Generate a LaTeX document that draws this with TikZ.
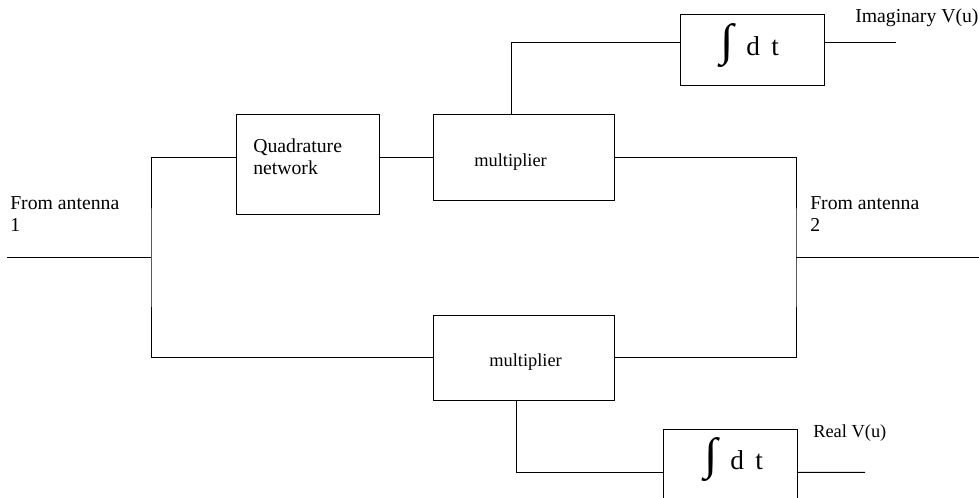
\documentclass[tikz,border=0pt]{standalone}
\usepackage{fontspec}
\setmainfont{Liberation Serif}
\newfontfamily\intfont{Liberation Serif}
\usepackage{graphicx}
\newcommand{\bigint}{{\intfont\raisebox{-9pt}{\resizebox*{10pt}{33pt}{\raisebox{\depth}{∫}}}}}
\newcommand{\intdt}{\makebox[19.5pt][l]{\bigint}\makebox[18.75pt][l]{d}t}
\tikzset{
  box/.style={draw, line width=0.75pt, inner sep=0pt, outer sep=0pt},
  wire/.style={line width=0.75pt},
  lbl/.style={inner sep=0pt, anchor=base west, align=left, font=\fontsize{14.8}{16.5}\selectfont},
  slbl/.style={inner sep=0pt, anchor=base west, font=\fontsize{13.8}{16}\selectfont},
  intlbl/.style={inner sep=0pt, anchor=base west, font=\fontsize{20.5}{24}\selectfont},
}
\begin{document}
\begin{tikzpicture}[x=0.75pt,y=-0.75pt]
\useasboundingbox (0,0) rectangle (979,498);
% boxes
\node[box, minimum width=107.25pt, minimum height=75pt] (quad) at (308.2,164.3) {};
\node[box, minimum width=136.05pt, minimum height=64.3pt] (mult1) at (524,157.2) {};
\node[box, minimum width=136.05pt, minimum height=64.3pt] (mult2) at (524,357.9) {};
\node[box, minimum width=108.2pt, minimum height=53.8pt] (int1) at (752.2,49.9) {};
\node[box, minimum width=100.5pt, minimum height=53.8pt] (int2) at (730.7,465.2) {};
% junctions and free ends
\coordinate (in1) at (7,257.7);
\coordinate (j1) at (151,257.7);
\coordinate (j2) at (796,257.7);
\coordinate (in2) at (979,257.7);
\coordinate (out1) at (895.7,42.3);
\coordinate (out2) at (865,472.3);
% wires
\draw[wire] (in1) -- (j1);
\draw[wire] (mult2.west) -| (j1) |- (quad.west |- mult1.west);
\draw[wire] (quad.east |- mult1.west) -- (mult1.west);
\draw[wire] (mult1.east) -| (j2) |- (mult2.east);
\draw[wire] (j2) -- (in2);
\draw[wire] ([xshift=-9.75pt]mult1.north) |- ([yshift=5.7pt]int1.west);
\draw[wire] ([yshift=5.7pt]int1.east) -- (out1);
\draw[wire] ([xshift=-5.5pt]mult2.south) |- ([yshift=-5.3pt]int2.west);
\draw[wire] ([yshift=-5.3pt]int2.east) -- (out2);
% labels
\node[lbl] (t_ant1) at (10,232) {From antenna\\1};
\node[lbl] (t_ant2) at (810,232) {From antenna\\2};
\node[lbl] (t_quad) at (253,175) {Quadrature\\network};
\node[slbl] (t_m1) at (474,167) {multiplier};
\node[slbl] (t_m2) at (489,366.7) {multiplier};
\node[lbl] (t_im) at (855,23) {Imaginary V(u)};
\node[slbl] (t_re) at (813,438) {Real V(u)};
\node[intlbl] (t_i1) at (720,56) {\intdt};
\node[intlbl] (t_i2) at (704,470) {\intdt};
\end{tikzpicture}
\end{document}
